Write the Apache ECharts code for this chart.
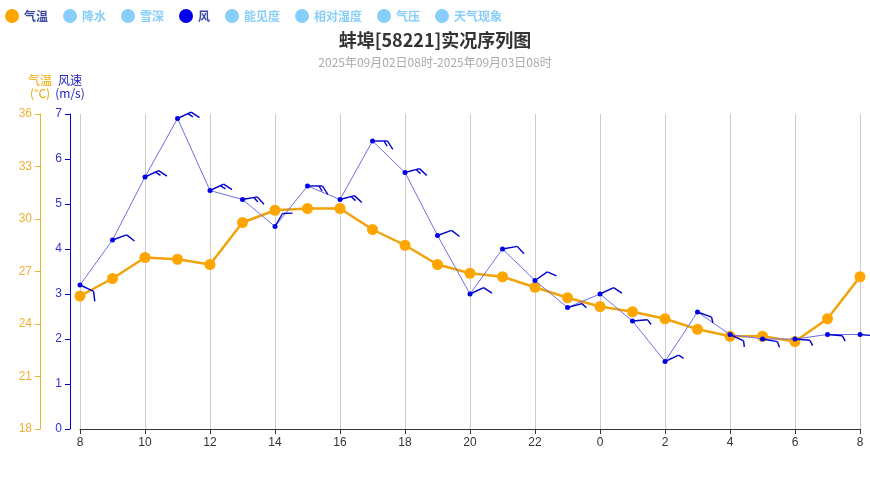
<!DOCTYPE html>
<html>
<head>
<meta charset="utf-8">
<script src="https://cdn.jsdelivr.net/npm/echarts@6/dist/echarts.min.js"></script>
<style>html,body{margin:0;padding:0;background:#fff}#chart{width:870px;height:500px}</style>
</head>
<body>
<div id="chart"></div>
<script>
const hours = ['8','9','10','11','12','13','14','15','16','17','18','19','20','21','22','23','0','1','2','3','4','5','6','7','8'];
const temperature = [25.6,26.6,27.8,27.7,27.4,29.8,30.5,30.6,30.6,29.4,28.5,27.4,26.9,26.7,26.1,25.5,25.0,24.7,24.3,23.7,23.3,23.3,23.0,24.3,26.7];
const windSpeed = [3.2,4.2,5.6,6.9,5.3,5.1,4.5,5.4,5.1,6.4,5.7,4.3,3.0,4.0,3.3,2.7,3.0,2.4,1.5,2.6,2.1,2.0,2.0,2.1,2.1];
const windDir = [115,70,65,65,65,80,30,90,75,90,75,70,65,80,55,75,65,85,65,110,115,100,95,95,95];
const legendNames = ['气温','降水','雪深','风','能见度','相对湿度','气压','天气现象'];
const titleText = '蚌埠[58221]实况序列图';
const subtitleText = '2025年09月02日08时-2025年09月03日08时';

const chart = echarts.init(document.getElementById('chart'));
const barbColor = '#0000cd';

function renderBarb(params, api) {
  const i = api.value(0), v = api.value(1), d = api.value(2);
  const p = api.coord([i, v]);
  const rad = d * Math.PI / 180;
  const ux = Math.sin(rad), uy = -Math.cos(rad);
  const L = 15;
  const ex = p[0] + ux * L, ey = p[1] + uy * L;
  const a = 58 * Math.PI / 180;
  const fx = ux * Math.cos(a) - uy * Math.sin(a);
  const fy = ux * Math.sin(a) + uy * Math.cos(a);
  const st = {stroke: barbColor, lineWidth: 1.4};
  const children = [{type: 'line', shape: {x1: p[0], y1: p[1], x2: ex, y2: ey}, style: st}];
  const n2 = Math.max(1, Math.round(v / 2));
  const full = Math.floor(n2 / 2), half = n2 % 2;
  let k = 0;
  for (let f = 0; f < full; f++, k++) {
    const sx = ex - ux * 3.5 * k, sy = ey - uy * 3.5 * k;
    children.push({type: 'line', shape: {x1: sx, y1: sy, x2: sx + fx * 10, y2: sy + fy * 10}, style: st});
  }
  if (half) {
    const sx = ex - ux * 3.5 * k, sy = ey - uy * 3.5 * k;
    children.push({type: 'line', shape: {x1: sx, y1: sy, x2: sx + fx * 6, y2: sy + fy * 6}, style: st});
  }
  return {type: 'group', children: children};
}

const emptySeries = ['降水','雪深','能见度','相对湿度','气压','天气现象'].map(n => ({
  name: n, type: 'line', data: [], itemStyle: {color: '#87CEFA'}
}));
const selected = {};
legendNames.forEach(n => selected[n] = (n === '气温' || n === '风'));

chart.setOption({
  animation: false,
  title: {
    text: titleText, subtext: subtitleText, left: 'center', top: 26, itemGap: 7,
    textStyle: {fontSize: 18, fontWeight: 'bold', color: '#333', fontFamily: 'Noto Sans CJK SC'},
    subtextStyle: {fontSize: 12, color: '#aaa', fontFamily: 'Noto Sans CJK SC'}
  },
  legend: {
    data: legendNames.map(n => ({name: n, icon: 'circle'})),
    selected: selected,
    left: 0, top: 4, itemWidth: 14, itemHeight: 14, itemGap: 15,
    inactiveColor: '#87CEFA',
    textStyle: {fontSize: 12, fontWeight: 'bold', color: '#3b4ba5', fontFamily: 'Noto Sans CJK SC'}
  },
  grid: {left: 80, right: 10, top: 114, bottom: 71},
  xAxis: {
    type: 'category', data: hours, boundaryGap: false,
    axisLine: {lineStyle: {color: '#333'}},
    axisTick: {interval: 1, lineStyle: {color: '#333'}},
    axisLabel: {interval: 1, color: '#333', fontSize: 12},
    splitLine: {show: true, interval: 1, lineStyle: {color: '#ccc'}}
  },
  yAxis: [
    {
      type: 'value', min: 18, max: 36, interval: 3, position: 'left', offset: 40,
      name: '气温\n(°C)', nameLocation: 'end', nameGap: 14,
      nameTextStyle: {color: '#f0a500', fontSize: 12, lineHeight: 13, align: 'center', fontFamily: 'Noto Sans CJK SC'},
      axisLine: {show: true, lineStyle: {color: '#f0b429'}},
      axisTick: {show: true, lineStyle: {color: '#f0b429'}},
      axisLabel: {color: '#f0b030', fontSize: 12},
      splitLine: {show: false}
    },
    {
      type: 'value', min: 0, max: 7, interval: 1, position: 'left', offset: 10,
      name: '风速\n(m/s)', nameLocation: 'end', nameGap: 14,
      nameTextStyle: {color: '#2222bb', fontSize: 12, lineHeight: 13, align: 'center', fontFamily: 'Noto Sans CJK SC'},
      axisLine: {show: true, lineStyle: {color: '#0000cd'}},
      axisTick: {show: true, lineStyle: {color: '#0000cd'}},
      axisLabel: {color: '#3333cc', fontSize: 12},
      splitLine: {show: false}
    }
  ],
  series: [
    {
      name: '气温', type: 'line', yAxisIndex: 0, data: temperature, z: 2,
      symbol: 'circle', symbolSize: 11,
      itemStyle: {color: '#FFA500'},
      lineStyle: {color: '#F0A30A', width: 2.5}
    },
    {
      name: '风', type: 'line', yAxisIndex: 1, data: windSpeed, z: 3,
      symbol: 'circle', symbolSize: 5,
      itemStyle: {color: '#0000ee'},
      lineStyle: {color: '#6e6ee2', width: 1}
    },
    {
      name: '风', type: 'custom', yAxisIndex: 1, z: 4, clip: false,
      data: windSpeed.map((v, i) => [i, v, windDir[i]]),
      renderItem: renderBarb,
      itemStyle: {color: '#0000ee'}
    }
  ].concat(emptySeries)
});
</script>
</body>
</html>
